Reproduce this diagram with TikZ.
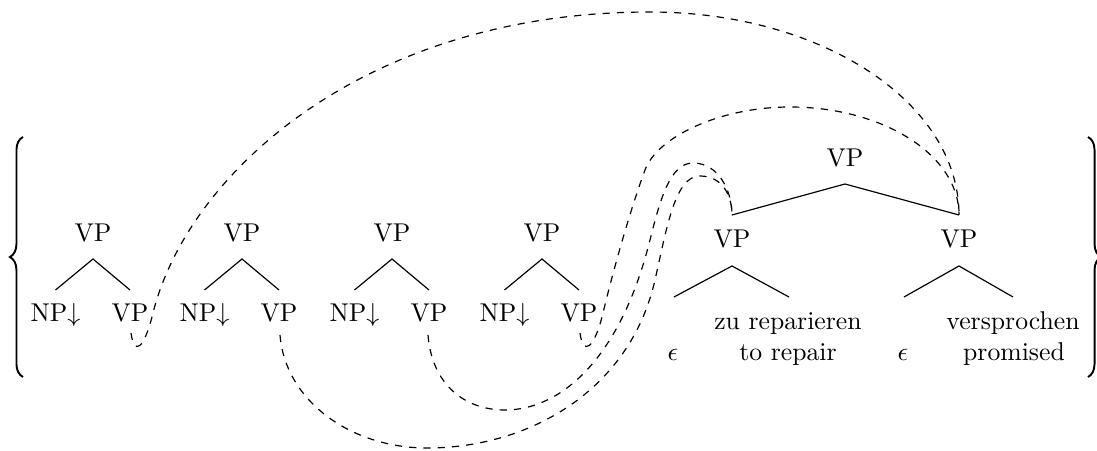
\documentclass[tikz,border=0pt]{standalone}
\usetikzlibrary{decorations.pathreplacing}
\begin{document}
\begin{tikzpicture}[x=0.42pt,y=-0.42pt,
  every node/.style={inner sep=0pt, font=\fontsize{10.8}{13}\selectfont},
  lbl/.style={anchor=base},
  tl/.style={line width=0.5pt},
  dl/.style={dashed, line width=0.5pt},
  bigbrace/.style={decorate, decoration={brace, amplitude=5.5pt}, line width=0.8pt}]
\useasboundingbox (0,0) rectangle (1097,451);

% braces
\coordinate (lbb) at (23,377);
\coordinate (lbt) at (23,137);
\coordinate (rbt) at (1088,137);
\coordinate (rbb) at (1088,377);
\draw[bigbrace] (lbb) -- (lbt);
\draw[bigbrace] (rbt) -- (rbb);

% four small trees
\foreach \i/\x in {1/93,2/242,3/392,4/542}{
  \node[lbl] (t\i) at (\x,242) {VP};
  \node[lbl] (t\i l) at (\x-37.5,322) {NP$\downarrow$};
  \node[lbl] (t\i r) at (\x+37,322) {VP};
  \coordinate (a\i) at (\x,259);
  \coordinate (a\i l) at (\x-37.5,290);
  \coordinate (a\i r) at (\x+37,290);
  \draw[tl] (a\i l) -- (a\i) -- (a\i r);
}

% big tree
\node[lbl] (top) at (845,167) {VP};
\coordinate (a5) at (845,184);
\coordinate (e5l) at (732,215);
\coordinate (e5r) at (959,215);
\draw[tl] (e5l) -- (a5) -- (e5r);

\node[lbl] (vpl) at (732,248) {VP};
\node[lbl] (vpr) at (959,248) {VP};
\coordinate (bl) at (732,266);
\coordinate (bll) at (674,297);
\coordinate (blr) at (789,297);
\coordinate (br) at (959,266);
\coordinate (brl) at (904,297);
\coordinate (brr) at (1013,297);
\draw[tl] (bll) -- (bl) -- (blr);
\draw[tl] (brl) -- (br) -- (brr);

\node[lbl] (eps1) at (673,361) {$\epsilon$};
\node[lbl] (zu) at (788,330) {zu reparieren};
\node[lbl] (tor) at (788,361) {to repair};
\node[lbl] (eps2) at (903,361) {$\epsilon$};
\node[lbl] (vers) at (1013,330) {versprochen};
\node[lbl] (prom) at (1014,361) {promised};

% dashed connectors
\coordinate (s1) at (131,333);
\coordinate (s2) at (280,335);
\coordinate (s3) at (428,335);
\coordinate (s4) at (580,333);

\draw[dl] (s1) .. controls (134,356) and (144,350) .. (153,313)
  .. controls (188,173) and (365,12) .. (650,12)
  .. controls (821,12) and (959,102) .. (e5r);

\draw[dl] (s4) .. controls (583,356) and (594,350) .. (603,313)
  .. controls (615,263) and (632,205) .. (645,170)
  .. controls (657,137) and (720,107) .. (790,107)
  .. controls (883,107) and (959,155) .. (e5r);

\draw[dl] (s3) .. controls (432,385) and (465,410) .. (505,410)
  .. controls (560,410) and (620,360) .. (650,240)
  .. controls (660,200) and (670,163) .. (693,163)
  .. controls (718,163) and (732,190) .. (e5l);

\draw[dl] (s2) .. controls (285,400) and (350,448) .. (427,448)
  .. controls (530,448) and (630,390) .. (655,280)
  .. controls (667,227) and (675,176) .. (700,176)
  .. controls (722,176) and (732,195) .. (e5l);
\end{tikzpicture}
\end{document}
